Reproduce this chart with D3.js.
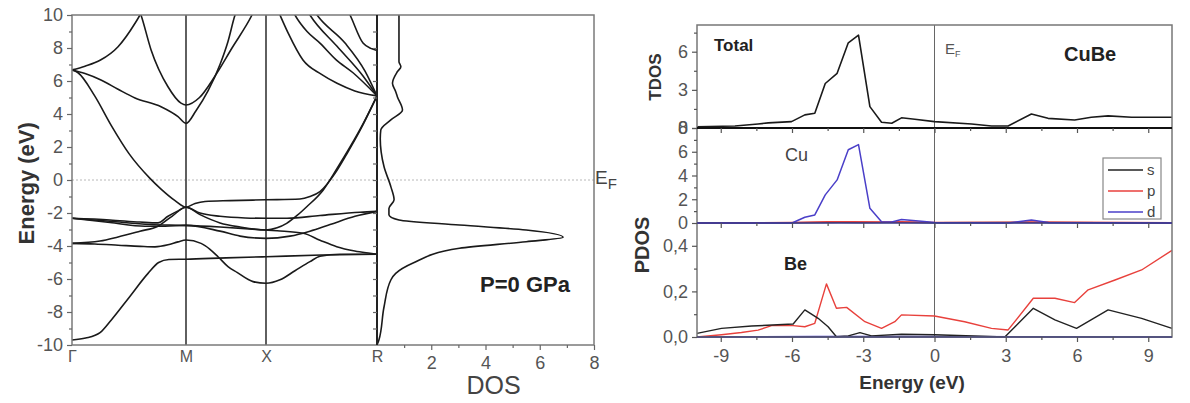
<!DOCTYPE html>
<html><head><meta charset="utf-8">
<script src="https://cdn.jsdelivr.net/npm/d3@7"></script>
<style>
body{margin:0;background:#fff}
svg{display:block}
text{font-family:"Liberation Sans",Arial,Helvetica,sans-serif}
</style>
</head><body>
<svg id="c" width="1190" height="403"></svg>
<script>
// ---------- DATA ----------
// band structure: k in segment units (Γ=0, M=1, X=2, R=3), energy in eV
const kLabels = ["Γ", "M", "X", "R"];
const kPositions = [0, 1, 2, 3];
const energyTicks = [-10, -8, -6, -4, -2, 0, 2, 4, 6, 8, 10];
const dosTicks = [2, 4, 6, 8];

const bandS  = [[0,-9.7],[0.12,-9.58],[0.246,-9.25],[0.345,-8.48],[0.506,-7.07],[0.667,-5.66],[0.76,-5.0],[0.85,-4.82],[1,-4.8],[1.5,-4.72],[2,-4.65],[2.5,-4.55],[3,-4.5]];
const bandEg1 = [[0,-3.84],[0.2,-3.88],[0.404,-3.95],[0.6,-4.02],[0.728,-4.05],[0.842,-3.93],[0.93,-3.75],[1,-3.64],[1.188,-3.84],[1.3,-4.2],[1.4,-4.65],[1.525,-5.25],[1.638,-5.6],[1.838,-6.16],[2,-6.26],[2.126,-6.05],[2.261,-5.5],[2.396,-4.95],[2.486,-4.62],[2.667,-4.5],[3,-4.5]];
const bandEg2 = [[0,-3.84],[0.246,-3.7],[0.404,-3.45],[0.596,-3.1],[0.754,-2.8],[0.877,-2.2],[1,-1.65],[1.175,-2.1],[1.425,-2.6],[1.675,-2.85],[2,-3.03],[2.1,-2.9],[2.186,-2.63],[2.28,-2.15],[2.367,-1.62],[2.516,-0.6],[2.64,0.7],[2.757,2.0],[2.874,3.4],[3,5.1]];
const bandD  = [[0,6.67],[0.053,6.5],[0.199,5.1],[0.345,3.3],[0.5,1.6],[0.684,0.1],[0.781,-0.55],[0.904,-1.25],[1,-1.65],[1.113,-1.42],[1.238,-1.3],[1.55,-1.25],[2,-1.2],[2.306,-1.15],[2.396,-1.0],[2.486,-0.7],[2.622,0.4],[2.73,1.6],[2.847,3.0],[3,5.1]];
const bandT1 = [[0,-2.32],[0.333,-2.5],[0.684,-2.7],[1,-2.75],[1.425,-2.85],[2,-3.03],[2.1,-3.08],[2.336,-3.23],[2.486,-3.65],[2.637,-4.04],[2.8,-4.3],[2.937,-4.44],[3,-4.5]];
const bandT2 = [[0,-2.32],[0.333,-2.42],[0.596,-2.55],[0.754,-2.6],[0.842,-2.2],[0.921,-1.9],[1,-1.65],[1.175,-2.0],[1.425,-2.2],[1.738,-2.3],[2,-2.32],[2.189,-2.32],[2.486,-2.15],[2.847,-1.95],[3,-1.9]];
const bandT3 = [[0,-2.32],[0.333,-2.58],[0.64,-2.8],[0.816,-2.8],[1,-2.75],[1.425,-3.1],[1.675,-3.4],[2,-3.54],[2.216,-3.4],[2.396,-3.1],[2.577,-2.7],[2.802,-2.2],[3,-1.9]];
const bandA  = [[0,6.67],[0.114,6.9],[0.25,7.27],[0.404,8.08],[0.553,9.5],[0.596,10],[0.64,10.6]];
const bandB  = [[0.553,10.9],[0.605,10],[0.693,7.9],[0.842,5.65],[0.956,4.66],[1,4.55],[1.169,5.0],[1.363,6.3],[1.575,8.0],[1.825,10],[1.875,10.5]];
const bandC  = [[0,6.67],[0.114,6.45],[0.254,6.06],[0.404,5.5],[0.553,4.97],[0.781,4.44],[0.93,3.84],[1,3.43],[1.125,4.2],[1.275,5.4],[1.425,7.0],[1.525,8.4],[1.613,10],[1.663,10.6]];
const bandL1 = [[2.1,10.4],[2.126,10],[2.2,8.9],[2.333,7.27],[2.5,6.4],[2.64,5.86],[2.8,5.4],[3,5.1]];
const bandL2 = [[2.23,10.4],[2.261,10],[2.37,9.0],[2.486,8.3],[2.63,7.3],[2.784,6.5],[3,5.1]];
const bandL3 = [[2.36,10.4],[2.396,10],[2.64,8.1],[2.874,6.3],[3,5.1]];
const bandL4 = [[2.42,10.4],[2.46,10],[2.712,8.3],[2.892,6.6],[3,5.1]];
const bandL5 = [[2.72,10.5],[2.757,10],[2.874,8.3],[2.955,7.95],[3,7.85]];
const bands = [bandS, bandEg1, bandEg2, bandD, bandT1, bandT2, bandT3, bandA, bandB, bandC, bandL1, bandL2, bandL3, bandL4, bandL5];

// total DOS beside the bands: [DOS, energy]
const dosCurve = [[0.81,10],[0.81,7.17],[0.88,6.87],[0.75,6.56],[0.57,5.86],[0.69,5.35],[0.75,5.05],[0.94,4.24],[0.51,3.64],[0.14,3.03],[0.12,2.5],[0.26,0.8],[0.51,-0.4],[0.63,-1.2],[0.44,-1.72],[0.44,-2.1],[0.81,-2.42],[3.04,-2.73],[5.5,-3.03],[6.86,-3.47],[5.5,-3.74],[3.04,-4.14],[1.31,-5.05],[0.69,-5.66],[0.51,-6.06],[0.26,-7.68],[0.07,-9.7],[0,-10]];

// right panels: [energy, value]
const energyTicksR = [-9, -6, -3, 0, 3, 6, 9];
const tdosTicks = [0, 3, 6];
const cuTicks = [0, 2, 4, 6, 8];
const beTicks = [0, 0.2, 0.4];
const tdos = [[-10,0.1],[-8.4,0.16],[-7.43,0.32],[-7.0,0.4],[-6.02,0.5],[-5.46,1.03],[-5.04,1.16],[-4.6,3.5],[-4.1,4.3],[-3.63,6.7],[-3.2,7.3],[-2.72,1.68],[-2.23,0.45],[-1.8,0.37],[-1.39,0.8],[-0.83,0.69],[0,0.5],[1.56,0.32],[2.4,0.16],[3.1,0.16],[4.08,1.1],[4.78,0.76],[5.9,0.63],[6.6,0.84],[7.31,0.95],[8.3,0.84],[10,0.84]];
const cuS = [[-10,0],[-6,0.02],[-4,0.05],[-3,0.04],[-1.4,0.05],[0,0.02],[4,0.04],[10,0]];
const cuP = [[-10,0],[-6,0.05],[-4.5,0.1],[-3.5,0.1],[-2,0.08],[-1.4,0.1],[0,0.05],[4,0.08],[10,0.02]];
const cuD = [[-10,0],[-6,0],[-5.46,0.48],[-5.04,0.68],[-4.6,2.37],[-4.1,3.63],[-3.63,6.17],[-3.2,6.6],[-2.72,1.24],[-2.23,0.11],[-1.8,0.08],[-1.39,0.3],[-0.55,0.15],[0,0.05],[3.1,0],[4.08,0.25],[4.8,0.05],[10,0]];
const beS = [[-10,0.016],[-8.97,0.038],[-7.7,0.048],[-5.95,0.057],[-5.46,0.119],[-4.9,0.082],[-4.48,0.045],[-4.13,0.001],[-3.63,0.005],[-3.14,0.019],[-2.65,0.005],[-1.39,0.012],[0,0.01],[2.96,0],[4.16,0.126],[5.07,0.075],[5.98,0.038],[7.31,0.119],[8.72,0.082],[10,0.038]];
const beP = [[-10,0],[-8.97,0.01],[-8.13,0.02],[-7.43,0.03],[-6.86,0.05],[-5.95,0.05],[-5.46,0.045],[-5.04,0.06],[-4.55,0.233],[-4.13,0.126],[-3.7,0.13],[-2.93,0.067],[-2.23,0.038],[-1.67,0.067],[-1.39,0.097],[0,0.092],[1.27,0.067],[2.4,0.038],[3.1,0.031],[4.16,0.17],[5.07,0.17],[5.9,0.151],[6.47,0.207],[7.6,0.25],[8.72,0.294],[10,0.38]];
const beD = [[-10,0],[-5,0.002],[0,0.002],[10,0]];
const legendNames = ["s", "p", "d"];
const legendColors = ["#222", "#e8413c", "#4a3fc8"];

// ---------- DRAW ----------
const svg = d3.select("#c");
const tickCol = "#555";

// ===== LEFT: band structure =====
const eScale = d3.scaleLinear().domain([-10, 10]).range([345, 15]);
const kScale = d3.scaleLinear().domain(kPositions).range([72, 186, 266, 377]);
const dosScale = d3.scaleLinear().domain([0, 8]).range([377, 594]);

svg.append("clipPath").attr("id", "bclip").append("rect")
  .attr("x", kScale(0)).attr("y", eScale(10)).attr("width", kScale(3) - kScale(0)).attr("height", eScale(-10) - eScale(10));

svg.append("line").attr("x1", kScale(0)).attr("x2", dosScale(8)).attr("y1", eScale(0)).attr("y2", eScale(0))
  .attr("stroke", "#b8b8b8").attr("stroke-width", 1).attr("stroke-dasharray", "2,2");

svg.selectAll(".hs").data([1, 2]).join("line")
  .attr("x1", d => kScale(d)).attr("x2", d => kScale(d)).attr("y1", eScale(10)).attr("y2", eScale(-10))
  .attr("stroke", "#444").attr("stroke-width", 1.7);

const bandLine = d3.line().x(d => kScale(d[0])).y(d => eScale(d[1])).curve(d3.curveMonotoneX);
svg.append("g").attr("clip-path", "url(#bclip)").selectAll("path").data(bands).join("path")
  .attr("d", bandLine).attr("fill", "none").attr("stroke", "#1a1a1a").attr("stroke-width", 1.6);

const dosLine = d3.line().x(d => dosScale(d[0])).y(d => eScale(d[1])).curve(d3.curveMonotoneY);
svg.append("path").datum(dosCurve).attr("d", dosLine).attr("fill", "none").attr("stroke", "#1a1a1a").attr("stroke-width", 1.6);

svg.append("rect").attr("x", kScale(0)).attr("y", eScale(10)).attr("width", dosScale(8) - kScale(0)).attr("height", eScale(-10) - eScale(10))
  .attr("fill", "none").attr("stroke", "#7a7a7a").attr("stroke-width", 1.5);
svg.append("line").attr("x1", kScale(3)).attr("x2", kScale(3)).attr("y1", eScale(10)).attr("y2", eScale(-10))
  .attr("stroke", "#222").attr("stroke-width", 2);

const yAx = svg.append("g").attr("transform", `translate(${kScale(0)},0)`)
  .call(d3.axisLeft(eScale).tickValues(energyTicks).tickSize(5).tickPadding(4).tickFormat(d => String(d)));
const yAxMinor = svg.append("g").attr("transform", `translate(${kScale(0)},0)`)
  .call(d3.axisLeft(eScale).tickValues(d3.range(-9, 10, 2)).tickSize(3).tickFormat(""));
const rAx = svg.append("g").attr("transform", `translate(${kScale(3)},0)`)
  .call(d3.axisLeft(eScale).tickValues(d3.range(-9, 10, 1)).tickSize(4).tickFormat(""));
const dAx = svg.append("g").attr("transform", `translate(0,${eScale(-10)})`)
  .call(d3.axisBottom(dosScale).tickValues(dosTicks).tickSize(5).tickPadding(6).tickFormat(d => String(d)));
const dAxMinor = svg.append("g").attr("transform", `translate(0,${eScale(-10)})`)
  .call(d3.axisBottom(dosScale).tickValues([1, 3, 5, 7]).tickSize(3).tickFormat(""));
const kAx = svg.append("g").attr("transform", `translate(0,${eScale(-10)})`)
  .call(d3.axisBottom(kScale).tickValues(kPositions).tickSize(0).tickPadding(6).tickFormat((d, i) => kLabels[i]));

[yAx, yAxMinor, rAx, dAx, dAxMinor, kAx].forEach(g => {
  g.select(".domain").remove();
  g.selectAll("line").attr("stroke", "#666").attr("stroke-width", 1.2);
  g.selectAll("text").attr("fill", tickCol).style("font-size", "18px").style("font-family", "Liberation Sans, Arial, sans-serif");
});
kAx.selectAll("text").style("font-size", "16px");

svg.append("text").attr("transform", `translate(34,${eScale(-0.2)}) rotate(-90)`).attr("text-anchor", "middle")
  .style("font-size", "22px").style("font-weight", "bold").attr("fill", "#333").text("Energy (eV)");
svg.append("text").attr("x", dosScale(4.3)).attr("y", 394).attr("text-anchor", "middle")
  .style("font-size", "25px").attr("fill", "#444").text("DOS");
svg.append("text").attr("x", dosScale(3.8)).attr("y", eScale(-6.8)).style("font-size", "22px").style("font-weight", "bold")
  .attr("fill", "#222").text("P=0 GPa");
const ef = svg.append("text").attr("x", 595).attr("y", eScale(-0.25)).attr("fill", "#444").style("font-size", "19px");
ef.append("tspan").text("E");
ef.append("tspan").attr("dy", 5).style("font-size", "15px").text("F");

// ===== RIGHT: TDOS / PDOS =====
const xE = d3.scaleLinear().domain([-10, 10]).range([697, 1172]);
const yT = d3.scaleLinear().domain([0, 8.1]).range([128, 25]);
const yCu = d3.scaleLinear().domain([0, 8]).range([223, 128]);
const yBe = d3.scaleLinear().domain([0, 0.5]).range([337, 223]);

svg.append("line").attr("x1", xE(0)).attr("x2", xE(0)).attr("y1", yT(8.1)).attr("y2", yBe(0))
  .attr("stroke", "#666").attr("stroke-width", 1);

function drawCurve(data, ys, color, w) {
  svg.append("path").datum(data).attr("fill", "none").attr("stroke", color).attr("stroke-width", w)
    .attr("stroke-linejoin", "round")
    .attr("d", d3.line().x(d => xE(d[0])).y(d => ys(d[1])));
}
drawCurve(tdos, yT, "#1a1a1a", 1.6);
drawCurve(cuS, yCu, legendColors[0], 1.4);
drawCurve(cuP, yCu, legendColors[1], 1.4);
drawCurve(cuD, yCu, legendColors[2], 1.5);
drawCurve(beD, yBe, legendColors[2], 1.4);
drawCurve(beP, yBe, legendColors[1], 1.4);
drawCurve(beS, yBe, legendColors[0], 1.4);

svg.append("rect").attr("x", xE(-10)).attr("y", yT(8.1)).attr("width", xE(10) - xE(-10)).attr("height", yBe(0) - yT(8.1))
  .attr("fill", "none").attr("stroke", "#777").attr("stroke-width", 1.5);
svg.append("line").attr("x1", xE(-10)).attr("x2", xE(10)).attr("y1", yT(0)).attr("y2", yT(0)).attr("stroke", "#111").attr("stroke-width", 2);
svg.append("line").attr("x1", xE(-10)).attr("x2", xE(10)).attr("y1", yCu(0)).attr("y2", yCu(0)).attr("stroke", "#3a3a8a").attr("stroke-width", 1.5);
svg.append("line").attr("x1", xE(-10)).attr("x2", xE(10)).attr("y1", yBe(0)).attr("y2", yBe(0)).attr("stroke", "#4a4a7a").attr("stroke-width", 1.5);

const rAxes = [];
[yT(0), yCu(0)].forEach(yy => {
  rAxes.push(svg.append("g").attr("transform", `translate(0,${yy})`)
    .call(d3.axisBottom(xE).tickValues(energyTicksR).tickSize(5).tickFormat("")));
  rAxes.push(svg.append("g").attr("transform", `translate(0,${yy})`)
    .call(d3.axisBottom(xE).tickValues([-7.5, -4.5, -1.5, 1.5, 4.5, 7.5]).tickSize(3).tickFormat("")));
});
const xAxR = svg.append("g").attr("transform", `translate(0,${yBe(0)})`)
  .call(d3.axisBottom(xE).tickValues(energyTicksR).tickSize(5).tickPadding(7).tickFormat(d => String(d)));
const xAxRm = svg.append("g").attr("transform", `translate(0,${yBe(0)})`)
  .call(d3.axisBottom(xE).tickValues([-7.5, -4.5, -1.5, 1.5, 4.5, 7.5]).tickSize(3).tickFormat(""));
const yTAx = svg.append("g").attr("transform", `translate(${xE(-10)},0)`)
  .call(d3.axisLeft(yT).tickValues(tdosTicks).tickSize(5).tickPadding(4).tickFormat(d => String(d)));
const yTAxm = svg.append("g").attr("transform", `translate(${xE(-10)},0)`)
  .call(d3.axisLeft(yT).tickValues([1.5, 4.5, 7.5]).tickSize(3).tickFormat(""));
const yCuAx = svg.append("g").attr("transform", `translate(${xE(-10)},0)`)
  .call(d3.axisLeft(yCu).tickValues(cuTicks).tickSize(5).tickPadding(4).tickFormat(d => String(d)));
const yCuAxm = svg.append("g").attr("transform", `translate(${xE(-10)},0)`)
  .call(d3.axisLeft(yCu).tickValues([1, 3, 5, 7]).tickSize(3).tickFormat(""));
const yBeAx = svg.append("g").attr("transform", `translate(${xE(-10)},0)`)
  .call(d3.axisLeft(yBe).tickValues(beTicks).tickSize(5).tickPadding(4).tickFormat(d => d.toFixed(1).replace(".", ",")));
const yBeAxm = svg.append("g").attr("transform", `translate(${xE(-10)},0)`)
  .call(d3.axisLeft(yBe).tickValues([0.1, 0.3]).tickSize(3).tickFormat(""));
rAxes.concat([xAxR, xAxRm, yTAx, yTAxm, yCuAx, yCuAxm, yBeAx, yBeAxm]).forEach(g => {
  g.select(".domain").remove();
  g.selectAll("line").attr("stroke", "#555").attr("stroke-width", 1.2);
  g.selectAll("text").attr("fill", tickCol).style("font-size", "18px").style("font-family", "Liberation Sans, Arial, sans-serif");
});

svg.append("text").attr("transform", `translate(661,${yT(4)}) rotate(-90)`).attr("text-anchor", "middle")
  .style("font-size", "17px").style("font-weight", "bold").attr("fill", "#333").text("TDOS");
svg.append("text").attr("transform", `translate(649,245) rotate(-90)`).attr("text-anchor", "middle")
  .style("font-size", "20px").style("font-weight", "bold").attr("fill", "#333").text("PDOS");
svg.append("text").attr("x", 912).attr("y", 389).attr("text-anchor", "middle")
  .style("font-size", "19px").style("font-weight", "bold").attr("fill", "#333").text("Energy (eV)");
svg.append("text").attr("x", 714).attr("y", 51).style("font-size", "17px").style("font-weight", "bold").attr("fill", "#222").text("Total");
svg.append("text").attr("x", 1064).attr("y", 61).style("font-size", "20px").style("font-weight", "bold").attr("fill", "#222").text("CuBe");
const ef2 = svg.append("text").attr("x", 945).attr("y", 54).attr("fill", "#555").style("font-size", "15px");
ef2.append("tspan").text("E");
ef2.append("tspan").attr("dy", 3).style("font-size", "9px").text("F");
svg.append("text").attr("x", 785).attr("y", 161).style("font-size", "18px").attr("fill", "#444").text("Cu");
svg.append("text").attr("x", 784).attr("y", 270).style("font-size", "18px").style("font-weight", "bold").attr("fill", "#222").text("Be");

const lg = svg.append("g");
lg.append("rect").attr("x", 1103).attr("y", 158).attr("width", 58).attr("height", 61).attr("fill", "#fff").attr("stroke", "#888").attr("stroke-width", 1.2);
const items = lg.selectAll(".it").data(legendNames).join("g").attr("transform", (d, i) => `translate(0,${170 + i * 21})`);
items.append("line").attr("x1", 1108).attr("x2", 1143).attr("stroke", (d, i) => legendColors[i]).attr("stroke-width", 1.6);
items.append("text").attr("x", 1147).attr("dy", "0.35em").style("font-size", "15px").attr("fill", "#444").text(d => d);
</script>
</body></html>
